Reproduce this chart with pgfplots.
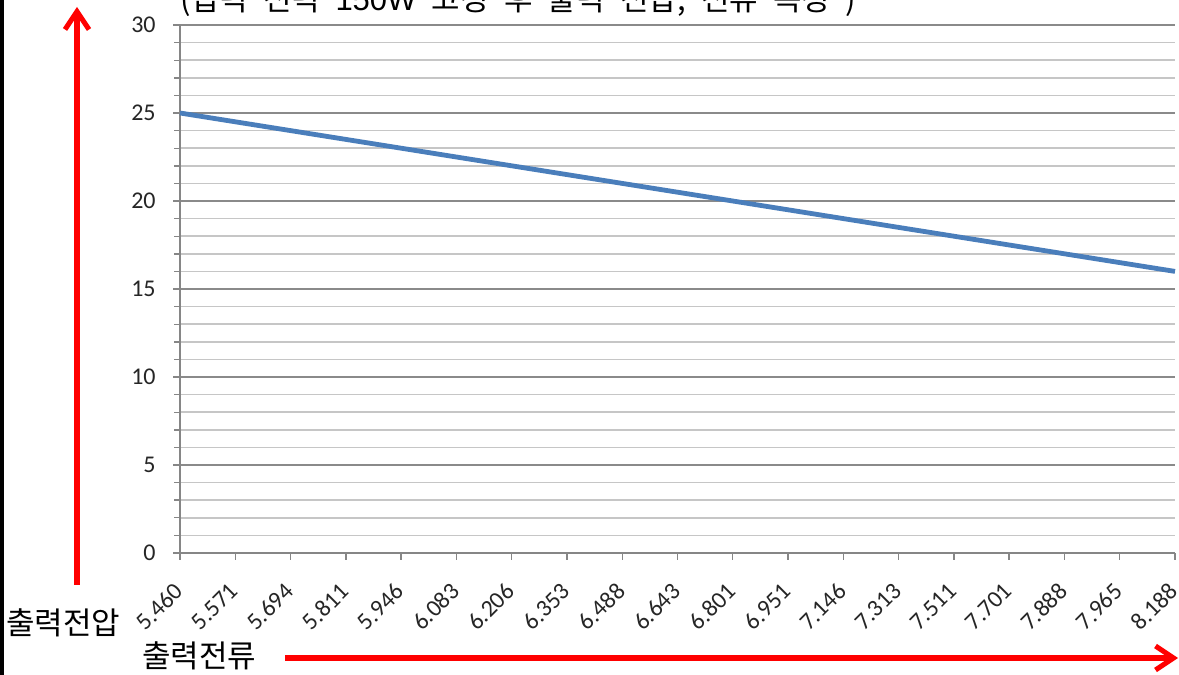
\documentclass[border=0pt]{standalone}
\usepackage{pgfplots}
\pgfplotsset{compat=1.18}
\usepackage{fontspec}
\setmainfont{Carlito}
\newfontfamily\kr[WordSpace=2.2]{Noto Sans CJK KR}
\newfontfamily\lat{Liberation Sans}
\usetikzlibrary{arrows.meta}
\definecolor{lineblue}{HTML}{4A7EBB}
\definecolor{majgrid}{HTML}{8A8A8A}
\definecolor{mingrid}{HTML}{C6C6C6}
\definecolor{axgray}{HTML}{868686}
\begin{document}
\begin{tikzpicture}
\path[use as bounding box] (0pt,0pt) rectangle (589.5pt,337.5pt);
\clip (0pt,0pt) rectangle (589.5pt,337.5pt);
\fill[white] (0pt,0pt) rectangle (589.5pt,337.5pt);
\fill[black] (0pt,0pt) rectangle (2pt,337.5pt);
\begin{axis}[
  at={(90pt,61pt)}, anchor=south west,
  scale only axis, width=497.5pt, height=264pt,
  xmin=0, xmax=18, ymin=0, ymax=30,
  axis x line=bottom, axis y line=left,
  axis line style={axgray, line width=0.8pt, -},
  xtick={0,...,18},
  xticklabels={\textnormal{5.460},\textnormal{5.571},\textnormal{5.694},\textnormal{5.811},\textnormal{5.946},\textnormal{6.083},\textnormal{6.206},\textnormal{6.353},\textnormal{6.488},\textnormal{6.643},\textnormal{6.801},\textnormal{6.951},\textnormal{7.146},\textnormal{7.313},\textnormal{7.511},\textnormal{7.701},\textnormal{7.888},\textnormal{7.965},\textnormal{8.188}},
  ytick={0,5,...,30},
  minor y tick num=4,
  tick align=outside,
  major tick length=3.5pt, minor tick length=3pt,
  tick style={axgray, line width=0.7pt},
  ymajorgrids, yminorgrids,
  major grid style={majgrid, line width=0.9pt},
  minor grid style={mingrid, line width=0.8pt},
  /pgf/number format/assume math mode=true,
  xticklabel style={yshift=-13.5pt, xshift=-0.5pt, rotate=45, anchor=east, inner sep=0pt, font=\fontsize{12}{14}\selectfont, text=black!85},
  yticklabel style={inner sep=0pt, xshift=-8.5pt, font=\fontsize{12}{14}\selectfont, text=black!85},
  clip=false,
]
\addplot[lineblue, line width=2.4pt, smooth] coordinates {
(0,25) (1,24.5) (2,24) (3,23.5) (4,23) (5,22.5) (6,22) (7,21.5) (8,21) (9,20.5)
(10,20) (11,19.5) (12,19) (13,18.5) (14,18) (15,17.5) (16,17) (17,16.5) (18,16)};
\end{axis}
\node[anchor=base west, inner sep=0pt, font=\kr\fontsize{15.5}{17}\selectfont] at (90pt,332pt) {(입력 전력 {\lat 150W} 고정 후 출력 전압, 전류 측정 )};
\node[anchor=base west, inner sep=0pt, font=\kr\fontsize{15.5}{17}\selectfont] at (3pt,20pt) {출력전압};
\node[anchor=base west, inner sep=0pt, font=\kr\fontsize{15.5}{17}\selectfont] at (71pt,3.5pt) {출력전류};
\draw[red, line width=2.8pt, -{Straight Barb[length=9pt,width=12pt,line width=2.5pt]}] (38.5pt,45pt) -- (38.5pt,334pt);
\draw[red, line width=2.6pt, -{Straight Barb[length=9pt,width=12pt,line width=2.5pt]}] (142.5pt,8.5pt) -- (589pt,8.5pt);
\end{tikzpicture}
\end{document}
